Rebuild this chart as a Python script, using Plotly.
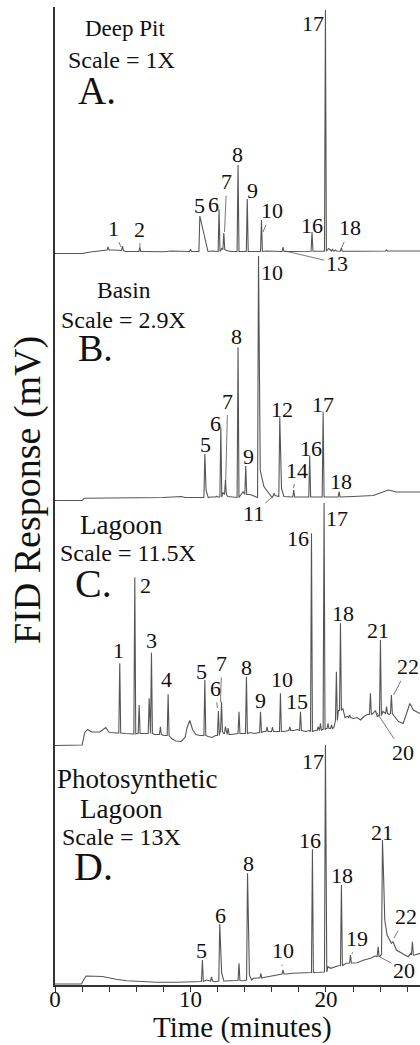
import plotly.graph_objects as go

# ---------------- data (time in minutes, signal in relative mV units) ----------------
# Panel A - Deep Pit
A_base_t = [0, 2.0, 2.6, 3.3, 3.75, 4.3, 4.7, 5.2, 6.5, 8.0, 8.6, 9.5, 10.45, 10.93, 11.18, 11.6,
            12.32, 12.65, 13.0, 13.9, 14.6, 15.6, 16.4, 17.5, 18.5, 19.6, 20.2, 20.9, 22.5, 24.0, 25.0, 26.94]
A_base_v = [0, 0, 1.5, 3, 4, 3.5, 3.5, 2, 2, 1.8, 2.5, 2, 2, 23, 7, 2.5,
            5, 3, 2, 2, 2, 2.5, 2, 2, 2.3, 2.3, 5, 2.3, 2.3, 2.5, 2.5, 2.5]
A_pk_t = [3.92, 4.98, 6.26, 10.0, 10.69, 12.11, 12.46, 13.51, 14.19, 15.24, 16.83, 18.97, 19.96, 20.48, 20.70, 21.14, 24.46]
A_pk_top = [6.5, 7.5, 5.8, 4.2, 37.5, 44.2, 20.5, 88.5, 54.5, 33.5, 6.5, 21.5, 243.5, 4.5, 3.5, 5.8, 3.5]
A_pk_foot = [3.5, 3, 2, 2, 2, 2, 4, 2, 2, 2, 2, 2.3, 2.3, 2.5, 2.5, 2.3, 2.5]
A_pk_tail = [0, 0, 0, 0, 0.6, 0, 0, 0, 0, 0, 0, 0, 0, 0, 0, 0, 0]

# Panel B - Basin
B_base_t = [0, 2.0, 2.15, 5.0, 8.0, 9.33, 9.6, 10.8, 11.15, 11.5, 12.4, 12.75, 13.2, 13.88, 14.4, 14.8,
            15.15, 15.42, 15.8, 16.72, 17.2, 18.2, 19.3, 20.4, 22.0, 23.5, 24.3, 24.6, 25.2, 26.94]
B_base_v = [0, 0, 2.2, 2.5, 3, 4, 3, 3, 10, 3.5, 8, 4, 3, 8.8, 6, 4,
            30, 14, 7, 12, 3.5, 3.5, 3.5, 3.5, 4, 5, 9, 10.5, 8.5, 8.5]
B_pk_t = [11.06, 11.92, 12.24, 12.58, 13.51, 14.08, 15.02, 16.17, 16.59, 17.62, 18.80, 19.79, 20.97]
B_pk_top = [46.5, 4.2, 73.2, 20.5, 153.2, 34.5, 244.5, 7.2, 83.2, 10.5, 44.5, 88.8, 8.8]
B_pk_foot = [3, 3.5, 3.5, 6, 3, 6, 3, 5, 4, 3.5, 3.5, 3.5, 3.5]
B_pk_tail = [0.25, 0, 0, 0, 0, 0, 1.0, 0, 0.3, 0, 0, 0, 0]

# Panel C - Lagoon
C_base_t = [0, 2.0, 2.2, 2.4, 2.7, 3.3, 3.75, 4.0, 4.6, 5.2, 5.6, 6.05, 6.5, 6.8, 7.35, 8.05, 8.6, 8.9, 9.3, 9.6,
            9.75, 9.95, 10.15, 10.4, 10.7, 11.3, 11.6, 11.85, 12.18, 12.45, 12.68, 13.0, 13.3, 13.85, 14.4, 14.7,
            15.4, 15.85, 16.3, 16.9, 17.6, 17.9, 18.5, 18.75, 19.2, 19.72, 20.0, 20.28, 20.58, 20.92, 21.25, 21.4,
            21.6, 22.0, 22.3, 22.55, 22.8, 23.05, 23.45, 23.65, 23.78, 24.2, 24.65, 25.0, 25.35, 25.7, 25.95,
            26.19, 26.45, 26.94]
C_base_v = [0, 0.5, 13, 16, 13.5, 13.5, 18, 13, 12.5, 12, 11.5, 12, 12, 12, 11, 10, 7, 4.5, 4, 8,
            18, 25, 16, 11, 10, 9, 8, 10, 14, 12, 11, 11, 12, 12, 13, 12,
            14, 14, 14, 14, 15, 16, 14, 15, 15, 16, 17, 17, 18, 35, 37, 28,
            29, 27, 28, 25.5, 29, 31, 32, 35, 29, 34, 31, 30, 24, 22, 33,
            42, 35.5, 32]
C_pk_t = [4.78, 5.89, 6.21, 6.95, 7.12, 7.78, 8.35, 11.06, 12.06, 12.29, 12.58, 12.78, 13.58, 14.13, 15.17,
          15.65, 16.05, 16.64, 17.33, 18.12, 18.93, 19.42, 19.59, 19.86, 20.15, 20.41, 20.77, 21.07, 21.75,
          23.28, 24.02, 24.47, 24.83]
C_pk_top = [82.2, 168.2, 40.5, 47.2, 92.8, 18.8, 51.2, 65.5, 34.5, 43.8, 18.8, 17.5, 33.8, 68.8, 33.8,
            18.5, 18.5, 52.2, 18.5, 33.8, 212.2, 18.8, 22.2, 242.5, 22.2, 20.5, 73.8, 122.2, 30.5,
            52.2, 105.5, 38.8, 50.5]
C_pk_foot = [12.5, 11.5, 12, 12, 12, 11, 10, 10, 10, 14, 12, 11, 12, 12, 13,
             14, 14, 14, 15, 15, 14, 15, 15, 16, 17, 17, 25, 35, 28,
             31, 30, 32, 32]
C_pk_tail = [0] * len(C_pk_t)

# Panel D - Photosynthetic Lagoon
D_base_t = [0, 1.95, 2.15, 2.3, 3.5, 4.5, 5.3, 6.3, 7.5, 9.0, 10.6, 11.18, 11.35, 11.8, 12.3, 12.95, 13.3,
            13.9, 14.35, 14.65, 14.95, 15.5, 16.3, 16.6, 17.1, 17.5, 18.5, 18.8, 19.5, 19.75, 20.15, 20.35,
            20.9, 21.5, 21.65, 22.3, 22.8, 23.3, 23.6, 23.98, 24.27, 24.34, 24.51, 24.83, 24.95, 25.2,
            26.06, 26.26, 26.55, 26.94]
D_base_v = [1, 1, 6, 9, 8.5, 5.7, 4.3, 3.3, 2.7, 2.7, 3.3, 5, 4, 3.3, 12, 4.3, 5,
            4.3, 10, 6.7, 7, 7.7, 10, 10.5, 11, 11.7, 12.3, 12.3, 12.7, 13, 18.3, 16.7,
            19.3, 21.7, 22, 22.3, 25, 26.7, 29, 28.5, 100, 65, 50, 41.7, 43.3, 35,
            28.3, 31.7, 30, 31.7]
D_pk_t = [10.88, 11.55, 12.16, 13.58, 14.21, 15.19, 16.83, 19.0, 19.96, 21.14, 21.81, 23.85, 24.17, 26.38]
D_pk_top = [25, 8, 61, 21.7, 111.7, 11.7, 15, 135.7, 240, 100, 30, 38.3, 145, 43.3]
D_pk_foot = [3.5, 4, 4, 4.5, 5, 7, 11, 12.5, 13, 19.5, 22, 28.5, 31, 30]
D_pk_tail = [0, 0, 0.3, 0, 0.3, 0, 0, 0, 0.1, 0, 0, 0, 1.52, 0]

X_TICKS = [0, 2, 4, 6, 8, 10, 12, 14, 16, 18, 20, 22, 24, 26]
X_TICK_TEXT = ["0", "", "", "", "", "10", "", "", "", "", "20", "", "", ""]

# ---------------- layout constants ----------------
FIG_W, FIG_H = 420, 1045
ML, MR, MT, MB = 55, 0, 7, 60
X_MAX = 26.94
PLOT_W = FIG_W - ML - MR
PLOT_H = FIG_H - MT - MB
PX_PER_MIN = PLOT_W / X_MAX
OFFSETS = {"A": 731.5, "B": 484.5, "C": 239.5, "D": 0.0}
SPIKE_W = 0.07
FONT = "Liberation Serif, Times New Roman, serif"
LINE_COLOR = "#555555"
TEXT_COLOR = "#111111"


def px(x, y):
    """figure pixel -> data coordinates (layout helper for text placement)"""
    return (x - ML) / PX_PER_MIN, (FIG_H - MB) - y


def build(bt, bv, pt, ptop, pfoot, ptail, off):
    pts = list(zip(bt, bv))
    for t, top, foot, tail in zip(pt, ptop, pfoot, ptail):
        pts.append((t - SPIKE_W, foot))
        pts.append((t, top))
        pts.append((t + max(SPIKE_W, tail), foot))
    pts.sort(key=lambda p: p[0])
    return [p[0] for p in pts], [p[1] + off for p in pts]


panels = [
    ("A", A_base_t, A_base_v, A_pk_t, A_pk_top, A_pk_foot, A_pk_tail),
    ("B", B_base_t, B_base_v, B_pk_t, B_pk_top, B_pk_foot, B_pk_tail),
    ("C", C_base_t, C_base_v, C_pk_t, C_pk_top, C_pk_foot, C_pk_tail),
    ("D", D_base_t, D_base_v, D_pk_t, D_pk_top, D_pk_foot, D_pk_tail),
]

fig = go.Figure()
for name, bt, bv, pt, ptop, pfoot, ptail in panels:
    xs, ys = build(bt, bv, pt, ptop, pfoot, ptail, OFFSETS[name])
    fig.add_trace(go.Scatter(x=xs, y=ys, mode="lines", line=dict(color=LINE_COLOR, width=1.1),
                             hoverinfo="skip", showlegend=False))

# peak labels: (text, label centre px, optional leader tip px)
peak_labels = [
    # A
    ("1", 113, 228, (121, 247)), ("2", 139.5, 229, (140, 248)), ("5", 199, 205, None), ("6", 213.3, 204, None),
    ("7", 226.7, 181.7, (224.5, 232)), ("8", 237.7, 154, None), ("9", 252, 190, None),
    ("10", 271.7, 210.7, (263, 232)), ("13", 336.7, 263, (285, 251)), ("16", 311.7, 225, None),
    ("17", 313.3, 23, None), ("18", 350, 227.7, (342, 247)),
    # B
    ("5", 205, 444, None), ("6", 215, 423.3, None), ("7", 227.7, 401, (225.7, 482)), ("8", 236.7, 336, None),
    ("9", 248.3, 456, None), ("10", 271.7, 272.7, None), ("11", 253.3, 513.3, (273.5, 496)),
    ("12", 281.7, 409, None), ("14", 297.3, 470, (293.5, 488)), ("16", 311, 448.3, None),
    ("17", 323.3, 404.3, None), ("18", 341, 481, None),
    # C
    ("1", 118.3, 650, None), ("2", 145, 585, None), ("3", 151.7, 640.7, None), ("4", 166.7, 679, None),
    ("5", 201.7, 671.7, None), ("6", 215, 688.3, (217.5, 708)), ("7", 221.7, 663.3, (220.5, 702)),
    ("8", 246.7, 667.3, None), ("9", 260, 700, None), ("10", 281.7, 679.3, None), ("15", 296.7, 701.7, None),
    ("16", 298.3, 538.3, None), ("17", 336.7, 518.3, None), ("18", 343.3, 613.3, None),
    ("20", 403.3, 752.7, (377, 713)), ("21", 377.7, 630.7, None), ("22", 408.3, 666.7, (393.5, 695)),
    # D
    ("5", 201.7, 950, None), ("6", 220, 915, None), ("8", 248.3, 863.3, None), ("10", 283.3, 950.7, (282, 966)),
    ("16", 310, 840.7, None), ("17", 313.3, 761.7, None), ("18", 341.7, 875, None),
    ("19", 357.3, 938.3, (352, 954)), ("20", 404, 970, (380, 957)), ("21", 381.7, 832.7, None),
    ("22", 406, 916.7, (394, 938)),
]

annotations = []
for text, lx, ly, tip in peak_labels:
    tx, ty = px(lx, ly)
    if tip is None:
        annotations.append(dict(x=tx, y=ty, xref="x", yref="y", text=text, showarrow=False,
                                xanchor="center", yanchor="middle",
                                font=dict(family=FONT, size=22, color=TEXT_COLOR)))
    else:
        hx, hy = px(*tip)
        annotations.append(dict(x=hx, y=hy, ax=tx, ay=ty, xref="x", yref="y", axref="x", ayref="y",
                                text=text, showarrow=True, arrowhead=0, arrowwidth=0.8,
                                arrowcolor="#555555", standoff=0, startstandoff=0,
                                xanchor="center", yanchor="middle",
                                font=dict(family=FONT, size=22, color=TEXT_COLOR)))

panel_text = [
    ("Deep Pit", 125, 28.3, 23), ("Scale = 1X", 121.7, 60, 24), ("A.", 96.7, 90.7, 39),
    ("Basin", 124, 290, 23.5), ("Scale = 2.9X", 123.3, 320, 24), ("B.", 95, 348.3, 38),
    ("Lagoon", 121.7, 525, 27), ("Scale = 11.5X", 127.7, 552.7, 24), ("C.", 93.3, 583.3, 40),
    ("Photosynthetic", 137.5, 779, 27), ("Lagoon", 121.7, 809.3, 27), ("Scale = 13X", 121.7, 837.3, 24),
    ("D.", 93.3, 866, 40),
]
for text, lx, ly, size in panel_text:
    tx, ty = px(lx, ly)
    annotations.append(dict(x=tx, y=ty, xref="x", yref="y", text=text, showarrow=False,
                            xanchor="center", yanchor="middle",
                            font=dict(family=FONT, size=size, color=TEXT_COLOR)))

# axis titles
annotations.append(dict(x=(27 - ML) / PLOT_W, y=((FIG_H - MB) - 490) / PLOT_H, xref="paper", yref="paper",
                        text="FID Response (mV)", textangle=-90, showarrow=False,
                        xanchor="center", yanchor="middle",
                        font=dict(family=FONT, size=38, color=TEXT_COLOR)))
annotations.append(dict(x=(242.5 - ML) / PLOT_W, y=((FIG_H - MB) - 1027) / PLOT_H, xref="paper", yref="paper",
                        text="Time (minutes)", showarrow=False, xanchor="center", yanchor="middle",
                        font=dict(family=FONT, size=29, color=TEXT_COLOR)))

fig.update_layout(
    width=FIG_W, height=FIG_H,
    margin=dict(l=ML, r=MR, t=MT, b=MB, autoexpand=False),
    paper_bgcolor="white", plot_bgcolor="white",
    showlegend=False,
    annotations=annotations,
    xaxis=dict(range=[0, X_MAX], showgrid=False, zeroline=False, showline=True,
               linecolor="#333333", linewidth=1.5, ticks="outside", ticklen=5, tickwidth=1.2,
               tickcolor="#333333", tickvals=X_TICKS, ticktext=X_TICK_TEXT, ticklabelstandoff=-12,
               tickfont=dict(family=FONT, size=23, color=TEXT_COLOR), fixedrange=True),
    yaxis=dict(range=[0, PLOT_H], showgrid=False, zeroline=False, showline=True,
               linecolor="#333333", linewidth=1.5, ticks="", showticklabels=False, fixedrange=True),
)

fig.write_html("out.html", config={"displayModeBar": False},
               post_script="document.body.style.margin='0';document.body.style.overflow='hidden';")
